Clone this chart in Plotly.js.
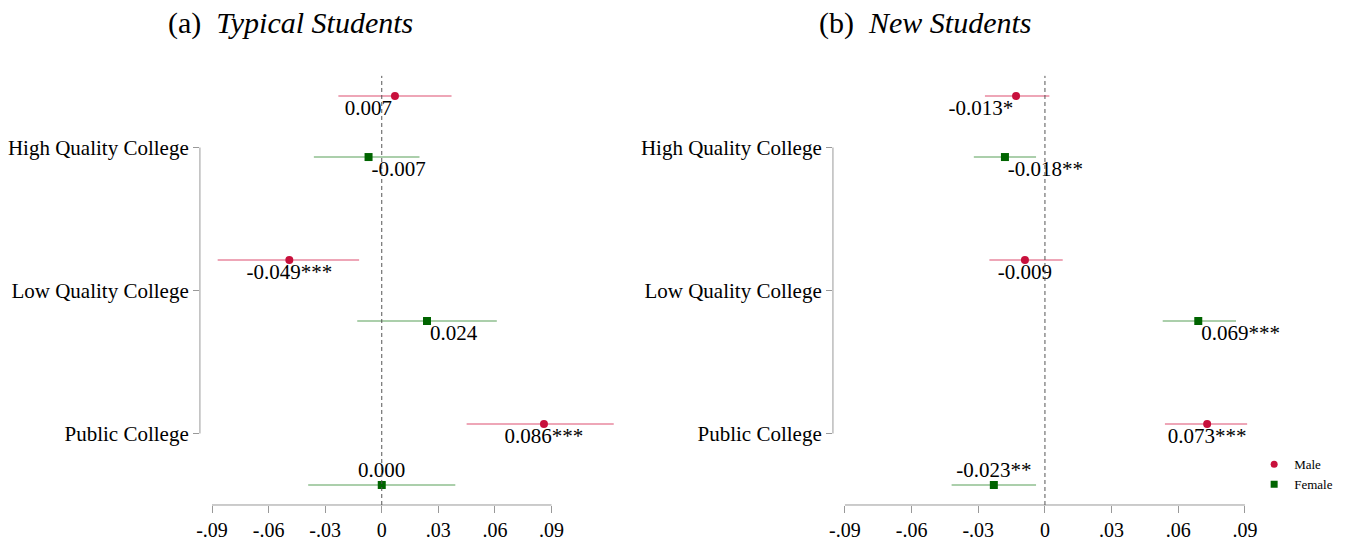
<!DOCTYPE html>
<html>
<head>
<meta charset="utf-8">
<script src="https://cdn.plot.ly/plotly-3.0.1.min.js"></script>
<style>
  body { margin: 0; background: #fff; }
  #chart { width: 1350px; height: 544px; }
</style>
</head>
<body>
<div id="chart"></div>
<script>
// categories and estimates
var categories = ['High Quality College', 'Low Quality College', 'Public College'];

// (a) Typical Students
var typMale = [0.007, -0.049, 0.086];
var typMaleLo = [-0.023, -0.087, 0.045];
var typMaleHi = [0.037, -0.012, 0.123];
var typMaleLbl = ['0.007', '-0.049***', '0.086***'];
var typFemale = [-0.007, 0.024, 0.000];
var typFemaleLo = [-0.036, -0.013, -0.039];
var typFemaleHi = [0.020, 0.061, 0.039];
var typFemaleLbl = ['-0.007', '0.024', '0.000'];

// (b) New Students
var newMale = [-0.013, -0.009, 0.073];
var newMaleLo = [-0.027, -0.025, 0.054];
var newMaleHi = [0.002, 0.008, 0.091];
var newMaleLbl = ['-0.013*', '-0.009', '0.073***'];
var newFemale = [-0.018, 0.069, -0.023];
var newFemaleLo = [-0.032, 0.053, -0.042];
var newFemaleHi = [-0.004, 0.086, -0.004];
var newFemaleLbl = ['-0.018**', '0.069***', '-0.023**'];

var xTicks = [-0.09, -0.06, -0.03, 0, 0.03, 0.06, 0.09];
var xTickText = ['-.09', '-.06', '-.03', '0', '.03', '.06', '.09'];

// layout of rows (slot positions, not data)
var off = 0.186;
var maleY = [0 - off, 1 - off, 2 - off];
var femaleY = [0 + off, 1 + off, 2 + off];
var labelY = [0.128, 1, 1.872];

var serif = 'Liberation Serif, Times New Roman, serif';
var maleCol = '#c8103c', maleCI = '#e8899f';
var femCol = '#006400', femCI = '#8fbf8f';

function diff(a, b) { return a.map(function(v, i) { return v - b[i]; }); }

function pointTrace(x, lo, hi, y, color, ci, symbol, xa, ya) {
  return {
    x: x, y: y, xaxis: xa, yaxis: ya,
    type: 'scatter', mode: 'markers', showlegend: false,
    marker: {color: color, size: 8, symbol: symbol},
    error_x: {type: 'data', symmetric: false,
      array: diff(hi, x), arrayminus: diff(x, lo),
      color: ci, thickness: 1.6, width: 0},
    hoverinfo: 'x'
  };
}

function textTrace(x, y, txt, pos, xa, ya) {
  return {
    x: x, y: y, xaxis: xa, yaxis: ya,
    type: 'scatter', mode: 'markers+text', showlegend: false,
    marker: {size: 3, color: 'rgba(0,0,0,0)'},
    text: txt, textposition: pos, cliponaxis: false,
    textfont: {family: serif, size: 21, color: '#000'},
    hoverinfo: 'skip'
  };
}

var data = [
  pointTrace(typMale, typMaleLo, typMaleHi, maleY, maleCol, maleCI, 'circle', 'x', 'y'),
  pointTrace(typFemale, typFemaleLo, typFemaleHi, femaleY, femCol, femCI, 'square', 'x', 'y'),
  pointTrace(newMale, newMaleLo, newMaleHi, maleY, maleCol, maleCI, 'circle', 'x2', 'y2'),
  pointTrace(newFemale, newFemaleLo, newFemaleHi, femaleY, femCol, femCI, 'square', 'x2', 'y2'),
  textTrace(typMale, maleY, typMaleLbl, ['bottom left', 'bottom center', 'bottom center'], 'x', 'y'),
  textTrace(typFemale, femaleY, typFemaleLbl, ['bottom right', 'bottom right', 'top center'], 'x', 'y'),
  textTrace(newMale, maleY, newMaleLbl, ['bottom left', 'bottom center', 'bottom center'], 'x2', 'y2'),
  textTrace(newFemale, femaleY, newFemaleLbl, ['bottom right', 'bottom right', 'top center'], 'x2', 'y2'),
  // legend entries
  {x: [null], y: [null], type: 'scatter', mode: 'markers', name: 'Male',
   marker: {color: maleCol, size: 7, symbol: 'circle'}},
  {x: [null], y: [null], type: 'scatter', mode: 'markers', name: 'Female',
   marker: {color: femCol, size: 7, symbol: 'square'}}
];

function xAxis(domain, range, anchor) {
  return {
    domain: domain, range: range, anchor: anchor,
    tickvals: xTicks, ticktext: xTickText,
    ticks: 'outside', ticklen: 7, tickcolor: '#999', tickwidth: 1,
    showline: false, showgrid: false, zeroline: false,
    tickfont: {family: serif, size: 20, color: '#000'}
  };
}

function yAxis(anchor) {
  return {
    domain: [0.0717, 0.8566], range: [2.308, -0.296], anchor: anchor,
    tickvals: labelY, ticktext: categories,
    ticks: 'outside', ticklen: 6, tickcolor: '#999', tickwidth: 1,
    showline: false, showgrid: false, zeroline: false,
    tickfont: {family: serif, size: 21, color: '#000'}
  };
}

var shapes = [];
[['x', 'y', -0.09, 0.09], ['x2', 'y2', -0.09, 0.09]].forEach(function(s) {
  // y axis spine between first and last label
  shapes.push({type: 'line', xref: s[0] + ' domain', yref: s[1],
    x0: 0, x1: 0, y0: labelY[0], y1: labelY[2],
    line: {color: '#999', width: 1}});
  // x axis spine over the tick range
  shapes.push({type: 'line', xref: s[0], yref: s[1] + ' domain',
    x0: s[2], x1: s[3], y0: 0, y1: 0,
    line: {color: '#999', width: 1}});
  // zero reference
  shapes.push({type: 'line', xref: s[0], yref: s[1] + ' domain',
    x0: 0, x1: 0, y0: 0, y1: 1.005,
    line: {color: '#555', width: 1, dash: '4px,3px'}});
});

var layout = {
  width: 1350,
  height: 544,
  margin: {l: 0, r: 0, t: 0, b: 0, pad: 0},
  paper_bgcolor: '#fff',
  plot_bgcolor: '#fff',
  font: {family: serif, color: '#000'},
  xaxis: xAxis([0.1481, 0.4556], [-0.0964, 0.1237], 'y'),
  yaxis: yAxis('x'),
  xaxis2: xAxis([0.617, 0.9304], [-0.0954, 0.095], 'y2'),
  yaxis2: yAxis('x2'),
  shapes: shapes,
  showlegend: true,
  legend: {
    x: 0.929, y: 0.128, xanchor: 'left', yanchor: 'middle',
    font: {family: serif, size: 13, color: '#000'},
    itemwidth: 30, tracegroupgap: 0, bgcolor: 'rgba(0,0,0,0)'
  },
  annotations: [
    {xref: 'paper', yref: 'paper', x: 0.215, y: 0.958, xanchor: 'center', yanchor: 'middle',
     text: '(a)  <i>Typical Students</i>', showarrow: false,
     font: {family: serif, size: 30, color: '#000'}},
    {xref: 'paper', yref: 'paper', x: 0.685, y: 0.958, xanchor: 'center', yanchor: 'middle',
     text: '(b)  <i>New Students</i>', showarrow: false,
     font: {family: serif, size: 30, color: '#000'}}
  ]
};

Plotly.newPlot('chart', data, layout, {displayModeBar: false, staticPlot: true});
</script>
</body>
</html>
